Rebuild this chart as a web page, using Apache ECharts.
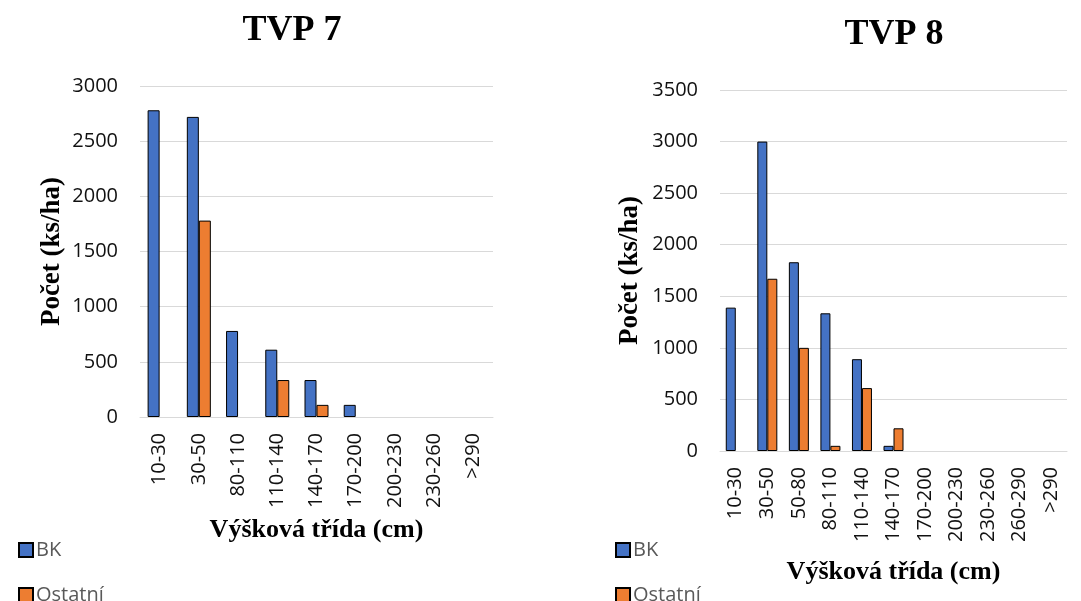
<!DOCTYPE html>
<html>
<head>
<meta charset="utf-8">
<title>TVP 7 / TVP 8</title>
<script src="https://cdn.jsdelivr.net/npm/echarts@6/dist/echarts.min.js"></script>
<style>
    html, body { margin: 0; padding: 0; background: #fff; }
    #main { width: 1081px; height: 601px; }
</style>
</head>
<body>
<div id="main"></div>
<script>
// TVP 7
var cats7 = ['10-30', '30-50', '80-110', '110-140', '140-170', '170-200', '200-230', '230-260', '>290'];
var bk7 = [2780, 2720, 780, 610, 335, 110, 0, 0, 0];
var ost7 = [0, 1780, 0, 335, 110, 0, 0, 0, 0];
var ticks7 = [0, 500, 1000, 1500, 2000, 2500, 3000];

// TVP 8
var cats8 = ['10-30', '30-50', '50-80', '80-110', '110-140', '140-170', '170-200', '200-230', '230-260', '260-290', '>290'];
var bk8 = [1390, 3000, 1830, 1335, 890, 50, 0, 0, 0, 0, 0];
var ost8 = [0, 1670, 1000, 50, 610, 220, 0, 0, 0, 0, 0];
var ticks8 = [0, 500, 1000, 1500, 2000, 2500, 3000, 3500];

var seriesNames = ['BK', 'Ostatní'];
var xName = 'Výšková třída (cm)';
var yName = 'Počet (ks/ha)';

var BLUE = '#4472C4', ORANGE = '#ED7D31';
var SERIF = '"Liberation Serif", "Times New Roman", serif';
var SANS = '"Open Sans", "Noto Sans", sans-serif';

var chart = echarts.init(document.getElementById('main'));

/** common x axis */
function xAxis(idx, cats, gap) {
    return {
        type: 'category', gridIndex: idx, data: cats,
        name: xName, nameLocation: 'middle', nameGap: gap,
        nameTextStyle: { fontFamily: SERIF, fontWeight: 'bold', fontSize: 26, color: '#000' },
        axisLine: { show: true, lineStyle: { color: '#D9D9D9', width: 1 } },
        axisTick: { show: false },
        axisLabel: { rotate: 90, margin: 16, interval: 0, fontFamily: SANS, fontSize: 20, color: '#111' }
    };
}

/** common y axis */
function yAxis(idx, ticks, gap) {
    return {
        type: 'value', gridIndex: idx,
        min: ticks[0], max: ticks[ticks.length - 1], interval: ticks[1] - ticks[0],
        name: yName, nameLocation: 'middle', nameGap: gap,
        nameTextStyle: { fontFamily: SERIF, fontWeight: 'bold', fontSize: 27, color: '#000' },
        axisLine: { show: false }, axisTick: { show: false },
        axisLabel: { margin: 22, fontFamily: SANS, fontSize: 20, color: '#111',
                     formatter: function (v) { return String(v); } },
        splitLine: { lineStyle: { color: '#D9D9D9', width: 1 } }
    };
}

/** zero values are left empty, like the original (no flat bar) */
function bar(name, idx, data, color, w) {
    return {
        name: name, type: 'bar', xAxisIndex: idx, yAxisIndex: idx,
        data: data.map(function (v) { return v === 0 ? null : v; }),
        barWidth: w, barGap: '0%',
        itemStyle: { color: color, borderColor: '#000', borderWidth: 1 }
    };
}

function legend(x) {
    return {
        data: seriesNames, orient: 'vertical', left: x, top: 535, height: 90,
        itemWidth: 14, itemHeight: 14, itemGap: 25, icon: 'rect',
        textStyle: { fontFamily: SANS, fontSize: 20, color: '#595959', padding: [0, 0, 0, -2] }
    };
}

var option = {
    animation: false,
    title: [
        { text: 'TVP 7', left: 287, top: 8, textAlign: 'center',
          textStyle: { fontFamily: SERIF, fontWeight: 'bold', fontSize: 36, color: '#000' } },
        { text: 'TVP 8', left: 889, top: 12, textAlign: 'center',
          textStyle: { fontFamily: SERIF, fontWeight: 'bold', fontSize: 36, color: '#000' } }
    ],
    legend: [legend(13), legend(610)],
    grid: [
        { left: 140, top: 86, width: 353, height: 331 },
        { left: 720, top: 90, width: 347, height: 361 }
    ],
    xAxis: [xAxis(0, cats7, 100), xAxis(1, cats8, 108)],
    yAxis: [yAxis(0, ticks7, 74), yAxis(1, ticks8, 76)],
    series: [
        bar(seriesNames[0], 0, bk7, BLUE, 12),
        bar(seriesNames[1], 0, ost7, ORANGE, 12),
        bar(seriesNames[0], 1, bk8, BLUE, 10),
        bar(seriesNames[1], 1, ost8, ORANGE, 10)
    ]
};
chart.setOption(option);
</script>
</body>
</html>
